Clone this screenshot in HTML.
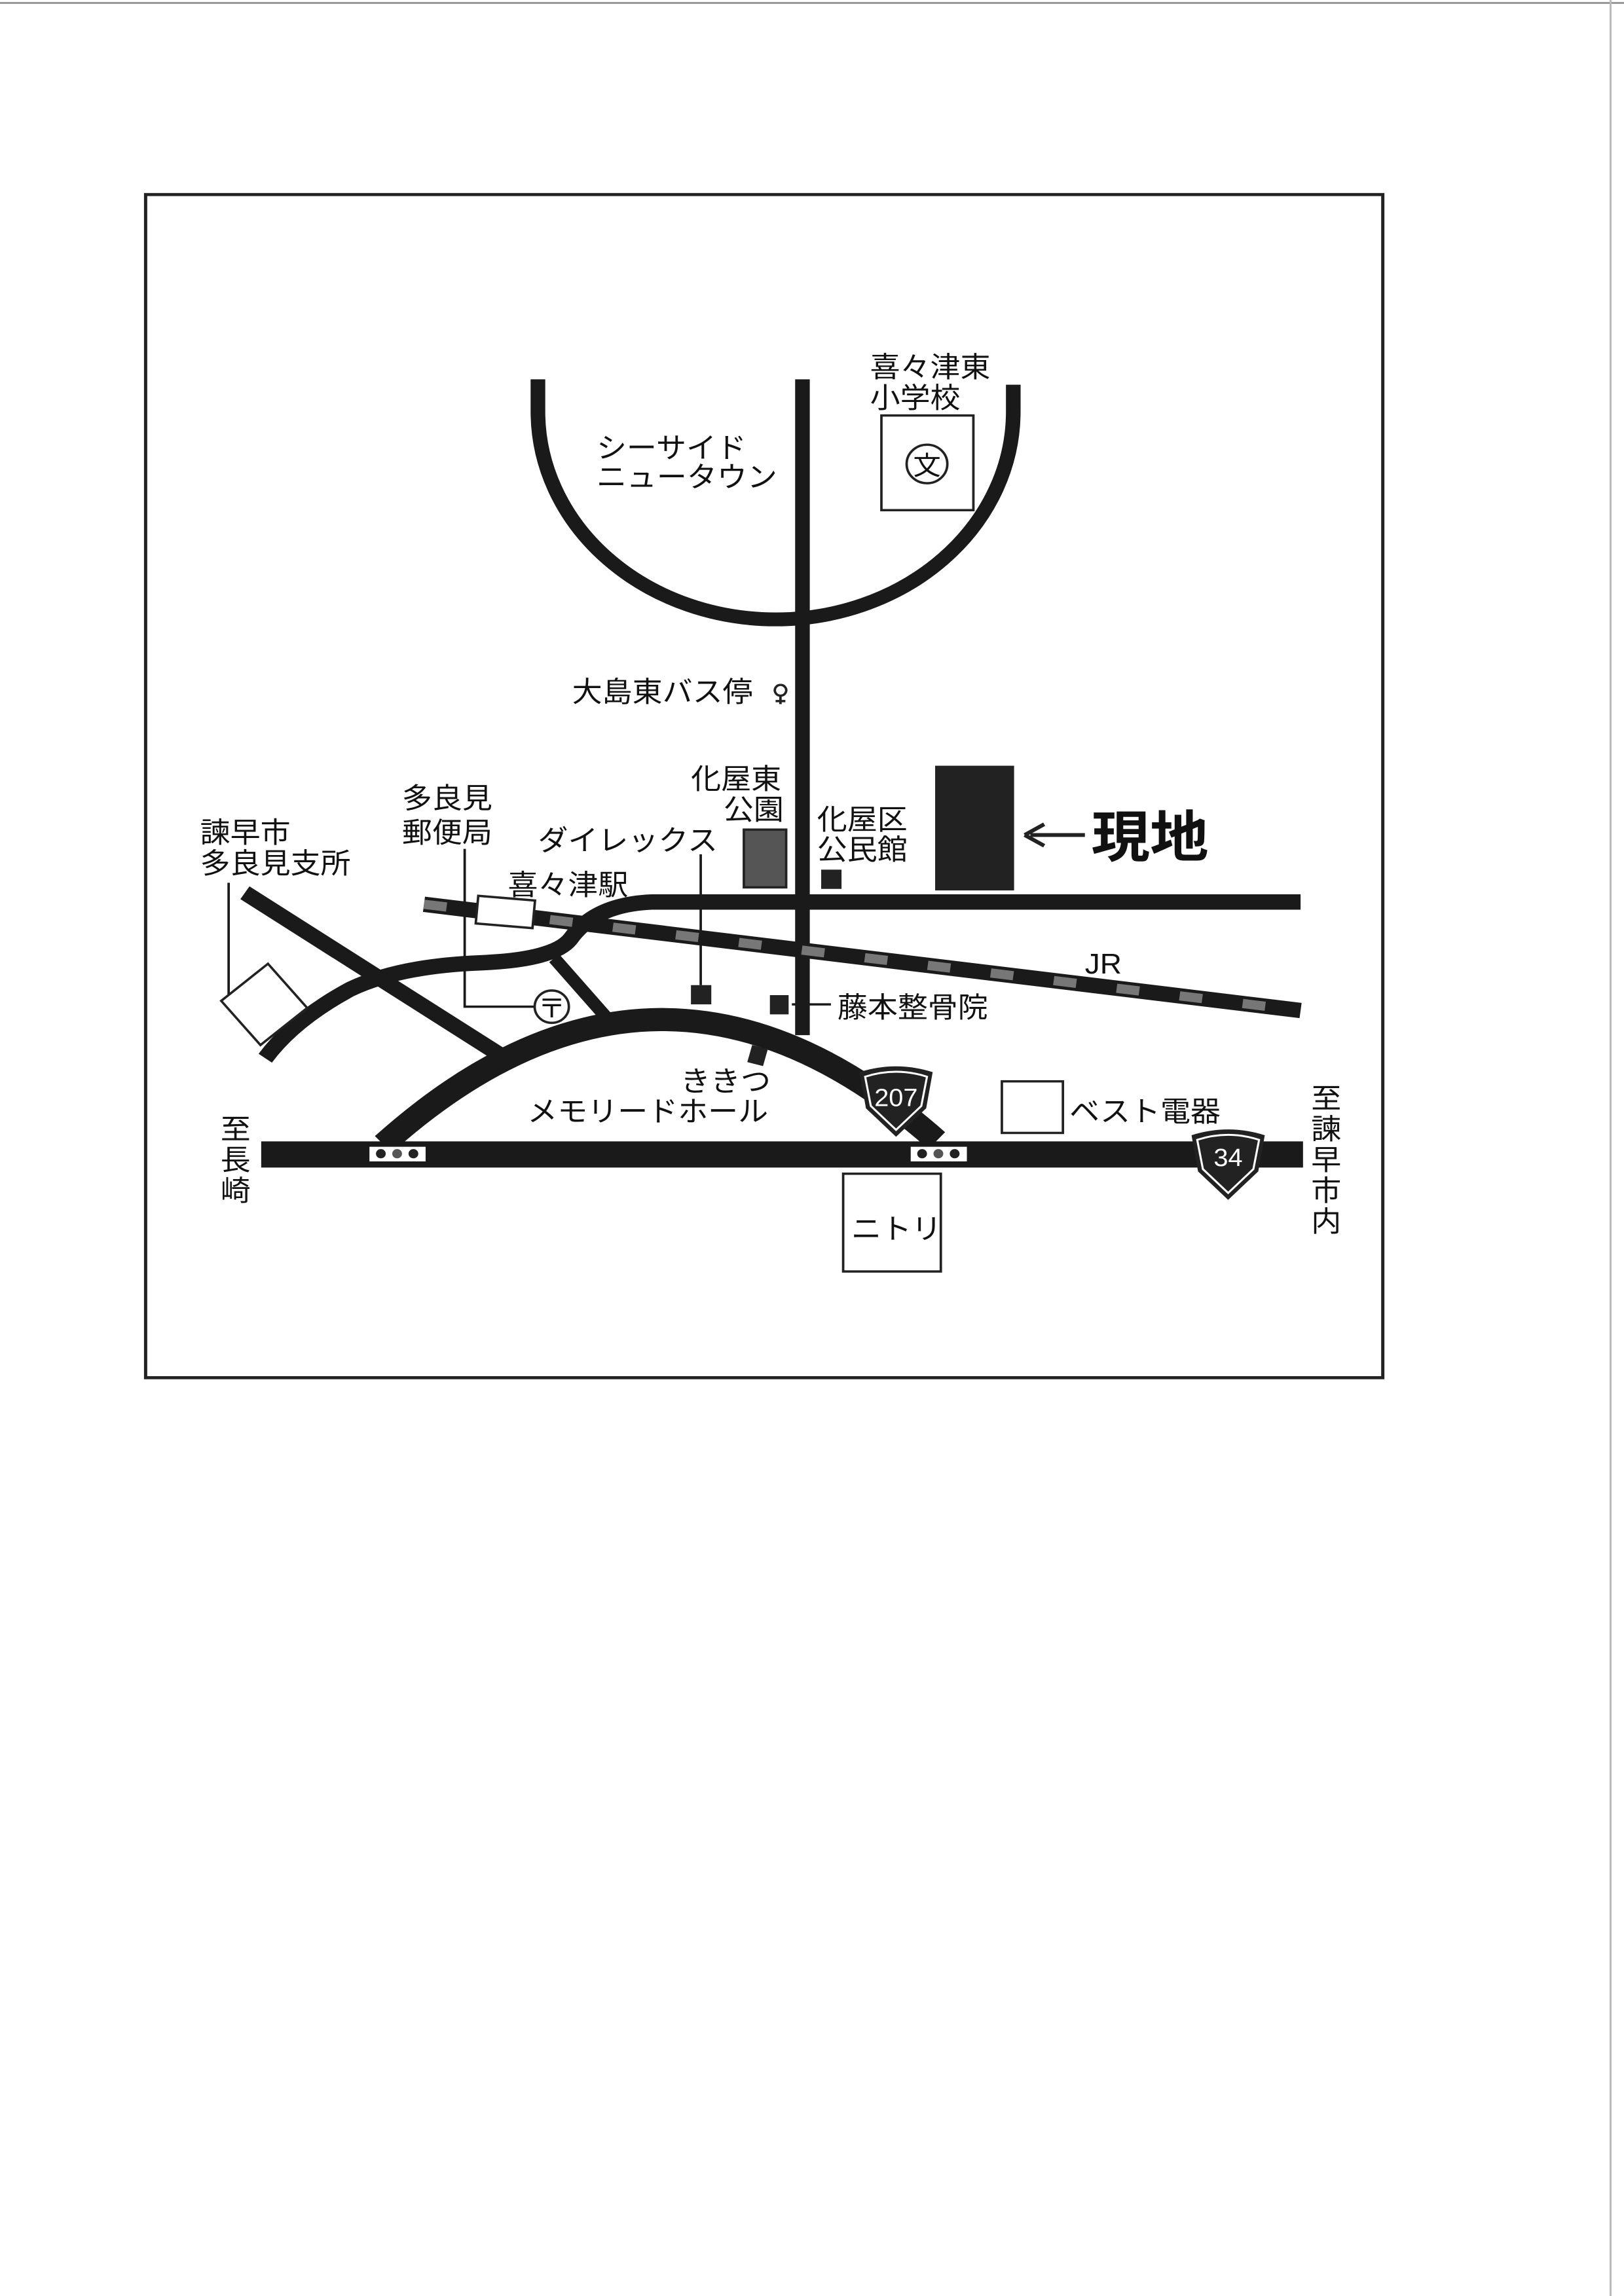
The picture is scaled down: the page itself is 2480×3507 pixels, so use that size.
<!DOCTYPE html>
<html><head><meta charset="utf-8"><style>
html,body{margin:0;padding:0;background:#fff;}
body{width:2480px;height:3507px;position:relative;overflow:hidden;}
svg text{font-family:"Liberation Sans","Noto Sans CJK JP",sans-serif;fill:#111;}
</style></head><body>
<div style="position:absolute;left:0;top:3px;width:2480px;height:3px;background:#999"></div>
<div style="position:absolute;left:2458px;top:0;width:3px;height:3507px;background:#bbb"></div>
<svg style="position:absolute;left:199.6px;top:275.8px" width="1939" height="1846" viewBox="0 0 1560 1570" preserveAspectRatio="none">
<rect x="18" y="18" width="1520" height="1537" fill="none" stroke="#222" stroke-width="4"/>
<g fill="none" stroke="#1a1a1a" stroke-linecap="butt">
<path d="M500,258 V300 A292,270 0 0 0 1084,300 V265" stroke-width="18"/>
<line x1="825" y1="258" x2="825" y2="1110" stroke-width="18"/>
<path d="M1437,937 L640,937 Q570,940 540,985 Q520,1012 430,1016 Q330,1020 270,1050 Q200,1090 165,1140" stroke-width="20"/>
<line x1="140" y1="925" x2="460" y2="1140" stroke-width="20"/>
<line x1="520" y1="1010" x2="585" y2="1088" stroke-width="16"/>
<path d="M310,1252 Q650,930 990,1247" stroke-width="30"/>
<line x1="160" y1="1265" x2="1440" y2="1265" stroke-width="34"/>
<line x1="360" y1="940" x2="1437" y2="1078" stroke-width="20"/>
<line x1="360" y1="940" x2="1437" y2="1078" stroke-width="12" stroke="#777" stroke-dasharray="28 50"/>
<polyline points="410,868 410,1073 495,1073" stroke-width="3"/>
<line x1="700" y1="875" x2="700" y2="1045" stroke-width="3"/>
<line x1="812" y1="1070" x2="860" y2="1070" stroke-width="3"/>
<polyline points="120,912 120,1075" stroke-width="3"/>
</g>
<rect x="425" y="932" width="70" height="36" fill="#fff" stroke="#222" stroke-width="3" transform="rotate(5 460 950)"/>
<circle cx="517" cy="1073" r="21" fill="#fff" stroke="#222" stroke-width="3"/>
<text x="517" y="1087" font-size="34" text-anchor="middle">〒</text>
<rect x="688" y="1045" width="25" height="25" fill="#222"/>
<rect x="785" y="1058" width="23" height="25" fill="#222"/>
<rect x="760" y="1125" width="20" height="23" fill="#222" transform="rotate(15 770 1136)"/>
<rect x="753" y="843" width="52" height="75" fill="#555" stroke="#222" stroke-width="3"/>
<rect x="848" y="895" width="25" height="25" fill="#222"/>
<rect x="988" y="760" width="97" height="162" fill="#222"/>
<rect x="922" y="305" width="113" height="123" fill="#fff" stroke="#222" stroke-width="3"/>
<circle cx="978" cy="368" r="25" fill="none" stroke="#222" stroke-width="3"/>
<text x="978" y="382" font-size="34" text-anchor="middle">文</text>
<rect x="126" y="1033" width="75" height="75" fill="#fff" stroke="#222" stroke-width="3" transform="rotate(-40 163 1070)"/>
<rect x="1070" y="1170" width="75" height="67" fill="#fff" stroke="#222" stroke-width="3"/>
<rect x="875" y="1290" width="120" height="127" fill="#fff" stroke="#222" stroke-width="3"/>
<g>
<rect x="293" y="1255" width="69" height="19" fill="#fff"/>
<circle cx="307" cy="1264" r="6" fill="#222"/><circle cx="327" cy="1264" r="6" fill="#555"/><circle cx="347" cy="1264" r="6" fill="#222"/>
<rect x="958" y="1255" width="69" height="19" fill="#fff"/>
<circle cx="972" cy="1264" r="6" fill="#222"/><circle cx="992" cy="1264" r="6" fill="#555"/><circle cx="1012" cy="1264" r="6" fill="#222"/>
</g>
<path d="M895,1158 Q940,1143 985,1158 L977,1205 L940,1242 L903,1205 Z" fill="#222"/>
<path d="M902,1164 Q940,1151 978,1164 L971,1202 L940,1233 L909,1202 Z" fill="none" stroke="#fff" stroke-width="2.5"/>
<text x="940" y="1202" font-size="32" text-anchor="middle" style="fill:#fff">207</text>
<path d="M1303,1240 Q1348,1225 1393,1240 L1385,1287 L1348,1324 L1311,1287 Z" fill="#222"/>
<path d="M1310,1246 Q1348,1233 1386,1246 L1379,1284 L1348,1315 L1317,1284 Z" fill="none" stroke="#fff" stroke-width="2.5"/>
<text x="1348" y="1280" font-size="32" text-anchor="middle" style="fill:#fff">34</text>
<line x1="1105" y1="850" x2="1172" y2="850" stroke="#222" stroke-width="5"/>
<path d="M1098,850 L1122,836 M1098,850 L1122,864" stroke="#222" stroke-width="5" fill="none"/>
<text x="1180" y="878" font-size="72" font-weight="bold">現地</text>
<path d="M798,655 a7,7 0 1 0 0.1,0 M798,669 V680 M792,676 H804" stroke="#222" stroke-width="3" fill="none"/>
<g font-size="37">
<text x="908" y="255">喜々津東</text>
<text x="908" y="295">小学校</text>
<text x="572" y="360">シーサイド</text>
<text x="572" y="398">ニュータウン</text>
<text x="542" y="677">大島東バス停</text>
<text x="688" y="790">化屋東</text>
<text x="728" y="830">公園</text>
<text x="333" y="815">多良見</text>
<text x="333" y="860">郵便局</text>
<text x="85" y="860">諫早市</text>
<text x="85" y="900">多良見支所</text>
<text x="500" y="870">ダイレックス</text>
<text x="843" y="843">化屋区</text>
<text x="843" y="882">公民館</text>
<text x="463" y="928">喜々津駅</text>
<text x="1172" y="1030">JR</text>
<text x="868" y="1087">藤本整骨院</text>
<text x="675" y="1183">ききつ</text>
<text x="487" y="1222">メモリードホール</text>
<text x="1153" y="1222">ベスト電器</text>
<text x="885" y="1375">ニトリ</text>
<text x="110" y="1245">至</text><text x="110" y="1285">長</text><text x="110" y="1325">崎</text>
<text x="1450" y="1205">至</text><text x="1450" y="1245">諫</text><text x="1450" y="1285">早</text><text x="1450" y="1325">市</text><text x="1450" y="1365">内</text>
</g>
</svg>
</body></html>
